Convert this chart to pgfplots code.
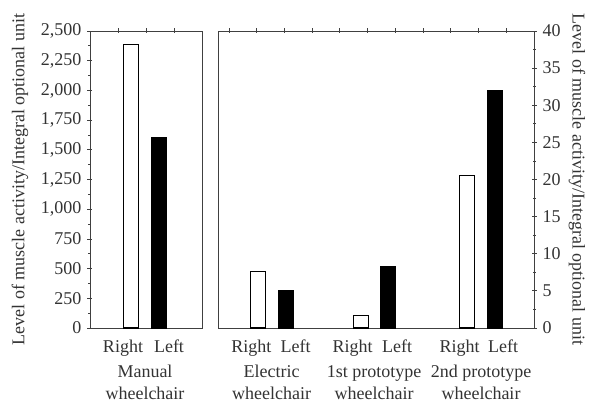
\documentclass[border=0pt]{standalone}
\usepackage{pgfplots}
\pgfplotsset{compat=1.18}
\usepackage{fontspec}
\setmainfont{Liberation Serif}
\begin{document}
\fontsize{18}{22}\selectfont
\begin{tikzpicture}
\pgfplotsset{
  common/.style={
    scale only axis, height=297pt, ymin=0, clip=false,
    axis line style={black!75, line width=0.9pt},
    every tick/.style={black!75, line width=0.8pt},
    tick align=center, major tick length=5pt, minor tick length=3pt,
    x tick style={draw=none},
    xtick pos=left,
    tick label style={font=\fontsize{18}{22}\selectfont, text=black!80},
    label style={font=\fontsize{18}{22}\selectfont, text=black!80},
    /pgf/number format/assume math mode=true,
    /pgf/number format/1000 sep={,},
    minor y tick num=1,
    x tick label style={yshift=-3pt},
  },
  topticks/.style={
    scale only axis, height=297pt, ymin=0, ymax=1,
    axis x line*=top, axis y line=none,
    xticklabel=\empty,
    tick align=center, major tick length=5pt,
    every tick/.style={black!75, line width=0.8pt},
    axis line style={draw=none},
  },
  wbar/.style={ybar, bar shift=0pt, bar width=15, draw=black, fill=white, line width=1.1pt},
  bbar/.style={ybar, bar shift=0pt, bar width=15, draw=black, fill=black, line width=1.1pt},
}
% left panel
\begin{axis}[common, at={(0pt,0pt)}, width=112pt,
  xmin=0, xmax=112, ymax=2500,
  ytick={0,250,...,2500}, ytick pos=left,
  xtick={33,79}, xticklabels={Right,Left},
  ylabel={Level of muscle activity/Integral optional unit},
  ylabel style={at={(axis description cs:0,0.5)}, anchor=center, yshift=70pt},
]
\addplot[wbar] coordinates {(41,2390)};
\addplot[bbar] coordinates {(69,1600)};
\node[align=center, anchor=north, text=black!80, font=\fontsize{18}{22}\selectfont] at (axis cs:55,0) [yshift=-31pt] {Manual\\wheelchair};
\end{axis}
\begin{axis}[topticks, at={(0pt,0pt)}, width=112pt, xmin=0, xmax=112,
  xtick={28,56,84}]
\end{axis}
% right panel
\begin{axis}[common, at={(128pt,0pt)}, width=316pt,
  xmin=0, xmax=316, ymax=40,
  ytick={0,5,...,40}, ytick pos=right, yticklabel pos=right,
  xtick={33.4,77.7,134.7,179.2,241.7,285.2},
  xticklabels={Right,Left,Right,Left,Right,Left},
  ylabel={Level of muscle activity/Integral optional unit},
  ylabel style={at={(axis description cs:1,0.5)}, anchor=center, rotate=180, yshift=43pt},
]
\addplot[wbar] coordinates {(39.7,7.6) (142.7,1.7) (249.2,20.5)};
\addplot[bbar] coordinates {(67.7,5.0) (169.7,8.3) (276.7,32)};
\node[align=center, anchor=north, text=black!80, font=\fontsize{18}{22}\selectfont] at (axis cs:53.7,0) [yshift=-31pt] {Electric\\wheelchair};
\node[align=center, anchor=north, text=black!80, font=\fontsize{18}{22}\selectfont] at (axis cs:156.2,0) [yshift=-31pt] {1st prototype\\wheelchair};
\node[align=center, anchor=north, text=black!80, font=\fontsize{18}{22}\selectfont] at (axis cs:263,0) [yshift=-31pt] {2nd prototype\\wheelchair};
\end{axis}
\begin{axis}[topticks, at={(128pt,0pt)}, width=316pt, xmin=0, xmax=316,
  xtick={11,38.7,66.4,94,121.7,149.4,177,205,232.7,260.4,288.4}]
\end{axis}
\path (-90pt,-72pt) rectangle (504pt,328pt);
\end{tikzpicture}
\end{document}
